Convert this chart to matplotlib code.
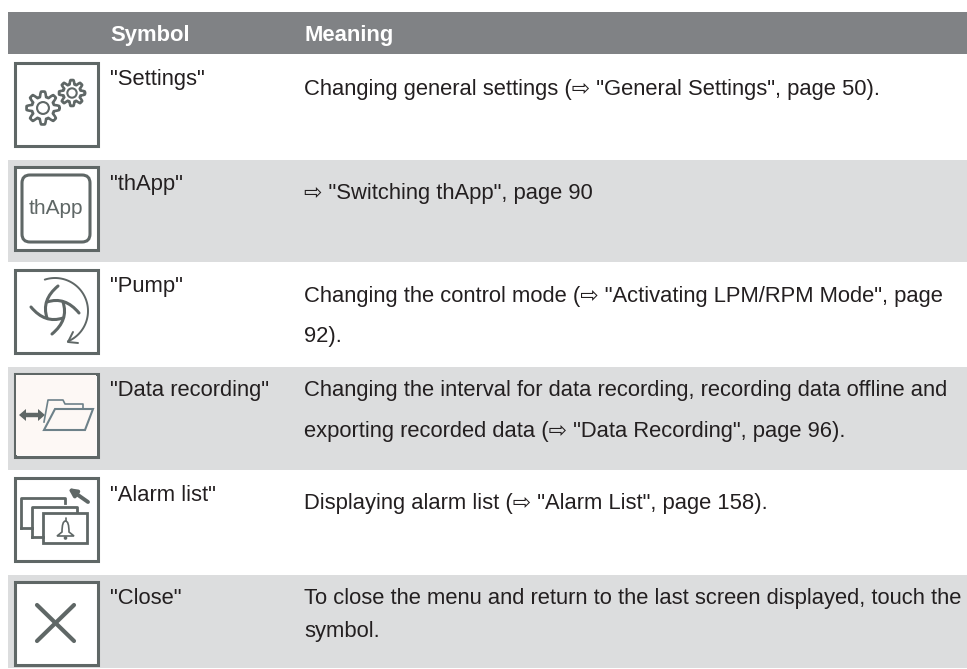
import matplotlib
matplotlib.use('Agg')
import matplotlib.pyplot as plt
from matplotlib.patches import Rectangle, FancyBboxPatch, Circle, Polygon, PathPatch
from matplotlib.path import Path
import numpy as np

plt.rcParams['font.family'] = ['Liberation Sans', 'DejaVu Sans']

headers = ['Symbol', 'Meaning']
symbols = ['"Settings"', '"thApp"', '"Pump"', '"Data recording"', '"Alarm list"', '"Close"']
meanings = [
    ['Changing general settings (⇨ "General Settings", page 50).'],
    ['⇨ "Switching thApp", page 90'],
    ['Changing the control mode (⇨ "Activating LPM/RPM Mode", page', '92).'],
    ['Changing the interval for data recording, recording data offline and',
     'exporting recorded data (⇨ "Data Recording", page 96).'],
    ['Displaying alarm list (⇨ "Alarm List", page 158).'],
    ['To close the menu and return to the last screen displayed, touch the', 'symbol.'],
]
row_tops = [54, 160, 262, 367, 470, 575, 668]
icon_tops = [61, 165, 268, 372, 476, 580]
symbol_base = [85, 190, 292, 396, 501, 604]
meaning_base = [[95], [199], [302, 342], [396, 437], [509], [604, 637]]

HEAD = '#808285'
GRAY = '#dcddde'
ICON = '#5f6766'
TEXT = '#231f20'
FS = 15.85
X0, SYM_X, MEAN_X, ICON_X, ICON_W = 8, 110, 304, 13, 86

fig = plt.figure(figsize=(9.67, 6.69), dpi=100)
ax = fig.add_axes([0, 0, 1, 1])
ax.set_xlim(0, 967)
ax.set_ylim(669, 0)
ax.axis('off')


def line(xs, ys, lw=2.2, color=ICON):
    ax.plot(xs, ys, color=color, lw=lw, solid_capstyle='round', solid_joinstyle='round')


def gear(cx, cy, r, teeth):
    a = np.linspace(0, 2*np.pi, 240)
    rad = r*(0.84 + 0.16*np.clip(1.7*np.cos(teeth*a), -1, 1))
    line(cx + rad*np.cos(a), cy + rad*np.sin(a), lw=1.9)
    ax.add_patch(Circle((cx, cy), r*0.36, fill=False, ec=ICON, lw=1.5))


def icon_settings(x, y):
    gear(x + 30, y + 47, 16.5, 8)
    gear(x + 59, y + 32, 13, 8)


def icon_thapp(x, y):
    ax.add_patch(FancyBboxPatch((x + 9, y + 10), 68, 67, boxstyle='round,pad=0,rounding_size=8',
                                fill=False, ec=ICON, lw=2.2))
    ax.text(x + 43, y + 43, 'thApp', ha='center', va='center', fontsize=15, color=ICON)


def icon_pump(x, y):
    a = np.radians(np.linspace(-108, 67, 60))
    line(x + 42 + 33*np.cos(a), y + 43 + 33*np.sin(a), lw=1.4)
    line([x + 60, x + 55, x + 65], [y + 64, y + 74, y + 75], lw=1.4)
    # four blades of the wheel, same curve turned by 90 degrees
    pts = np.array([[3, -24], [-14, -10], [-8, 8]], dtype=float)
    for k in range(4):
        p = pts + [x + 42, y + 42]
        ax.add_patch(PathPatch(Path(p, [Path.MOVETO, Path.CURVE3, Path.CURVE3]), fill=False,
                               ec=ICON, lw=2.2, capstyle='round'))
        pts = np.column_stack([-pts[:, 1], pts[:, 0]])


def icon_data(x, y):
    ax.add_patch(Rectangle((x + 3, y + 3), ICON_W - 6, ICON_W - 6, fc='#fdf8f5', ec='none'))
    ax.plot([x + 10, x + 28], [y + 43, y + 43], color=ICON, lw=3.2, solid_capstyle='butt')
    ax.add_patch(Polygon([(x + 6, y + 43), (x + 13, y + 37), (x + 13, y + 49)], fc=ICON, ec='none'))
    ax.add_patch(Polygon([(x + 32, y + 43), (x + 25, y + 37), (x + 25, y + 49)], fc=ICON, ec='none'))
    folder = '#6d8189'
    ax.plot([x + 31, x + 35, x + 50, x + 52, x + 70, x + 70],
            [y + 50, y + 28, y + 28, y + 32, y + 32, y + 37], color=folder, lw=1.2)
    ax.add_patch(Polygon([(x + 42, y + 37), (x + 80, y + 37), (x + 72, y + 58), (x + 31, y + 58)],
                         fill=False, ec=folder, lw=1.5))


def icon_alarm(x, y):
    for dx, dy, w, h in [(8, 22, 44, 30), (19, 31, 45, 30)]:
        ax.plot([x + dx, x + dx, x + dx + w, x + dx + w], [y + dy + h, y + dy, y + dy, y + dy + 5],
                color=ICON, lw=2.0)
        ax.plot([x + dx, x + dx + 11], [y + dy + h, y + dy + h], color=ICON, lw=2.0)
    ax.add_patch(Rectangle((x + 30, y + 37), 44, 30, fill=False, ec=ICON, lw=2.0))
    ax.annotate('', xy=(x + 55, y + 12), xytext=(x + 75, y + 26),
                arrowprops=dict(arrowstyle='-|>', color=ICON, lw=2.8, mutation_scale=11,
                                shrinkA=0, shrinkB=0))
    a = Path([(x + 44, y + 60), (x + 49, y + 56), (x + 49, y + 45), (x + 52.5, y + 45),
              (x + 56, y + 45), (x + 56, y + 56), (x + 61, y + 60), (x + 44, y + 60)],
             [Path.MOVETO, Path.LINETO, Path.CURVE3, Path.CURVE3, Path.CURVE3, Path.CURVE3,
              Path.LINETO, Path.CLOSEPOLY])
    ax.add_patch(PathPatch(a, fill=False, ec=ICON, lw=1.2))
    line([x + 52.5, x + 52.5], [y + 42, y + 45], lw=1.2)
    ax.add_patch(Circle((x + 52.5, y + 62), 1.8, fc=ICON, ec='none'))


def icon_close(x, y):
    line([x + 24, x + 61], [y + 25, y + 61], lw=3)
    line([x + 61, x + 24], [y + 25, y + 61], lw=3)


drawers = [icon_settings, icon_thapp, icon_pump, icon_data, icon_alarm, icon_close]

ax.add_patch(Rectangle((X0, 12), 967 - X0, 42, fc=HEAD, ec='none'))
ax.text(SYM_X, 41, headers[0], color='white', fontsize=FS, fontweight='bold', va='baseline')
ax.text(MEAN_X, 41, headers[1], color='white', fontsize=FS, fontweight='bold', va='baseline')

for i in range(6):
    if i % 2 == 1:
        ax.add_patch(Rectangle((X0, row_tops[i]), 967 - X0, row_tops[i + 1] - row_tops[i], fc=GRAY, ec='none'))
    ax.add_patch(Rectangle((ICON_X + 1.5, icon_tops[i] + 1.5), ICON_W - 3, ICON_W - 3, fc='white', ec=ICON, lw=2.2))
    drawers[i](ICON_X, icon_tops[i])
    ax.text(SYM_X, symbol_base[i], symbols[i], color=TEXT, fontsize=FS, va='baseline')
    for s, yy in zip(meanings[i], meaning_base[i]):
        ax.text(MEAN_X, yy, s, color=TEXT, fontsize=FS, va='baseline')

fig.savefig('out.png', dpi=100)
